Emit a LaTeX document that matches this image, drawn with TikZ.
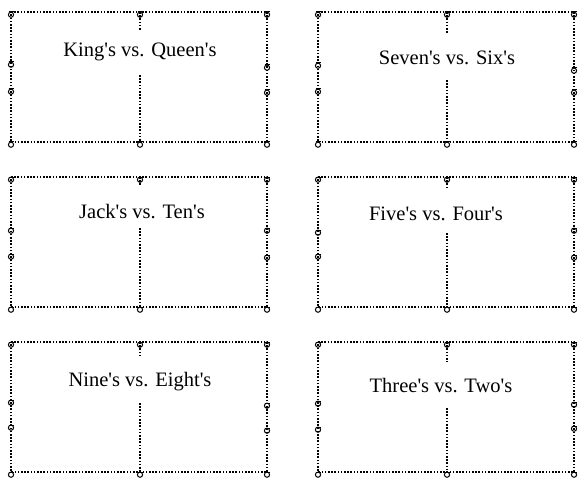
\documentclass[tikz,border=0pt]{standalone}
\usepackage{fontspec}
\setmainfont{Liberation Serif}[Ligatures=TeXOff]
\begin{document}
\begin{tikzpicture}[x=1pt,y=-1pt,
  dotline/.style={line width=1.8pt,dash pattern=on 1.6pt off 1.6pt,black},
  cardtext/.style={font=\fontsize{20.5}{24}\selectfont,inner sep=0pt,anchor=center},
  sig/.pic={\draw[line width=1pt] (-2.4,0) -- (3.2,0);
            \draw[line width=1pt] (0,2.7) circle[radius=2.6pt];}]
\useasboundingbox (0,0) rectangle (578,484);
\foreach \x/\t/\lab/\tx/\ty/\ga/\gb/\la/\lb/\ra/\rb [count=\i] in {
  11/12/{King's vs. Queen's}/140/52/30/75/62/89/65/90,
  318/12/{Seven's vs. Six's}/447/58/33/80/63/89/68/90,
  11/177/{Jack's vs. Ten's}/142/212/185/228/228/254/228/255,
  318/177/{Five's vs. Four's}/436/214/189/233/230/254/228/255,
  11/342/{Nine's vs. Eight's}/140/382/357/403/400/425/403/428,
  318/342/{Three's vs. Two's}/441/386/362/408/401/427/402/426}{
  \pgfmathsetmacro{\xr}{\x+256}
  \pgfmathsetmacro{\xm}{\x+129}
  \pgfmathsetmacro{\bt}{\t+130}
  \coordinate (tl\i) at (\x,\t);
  \coordinate (tr\i) at (\xr,\t);
  \coordinate (bl\i) at (\x,\bt);
  \coordinate (br\i) at (\xr,\bt);
  \coordinate (tm\i) at (\xm,\t);
  \coordinate (bm\i) at (\xm,\bt);
  \coordinate (ga\i) at (\xm,\ga);
  \coordinate (gb\i) at (\xm,\gb);
  \draw[dotline] (tl\i) -- (tr\i) -- (br\i) -- (bl\i) -- cycle;
  \draw[dotline] (tm\i) -- (ga\i);
  \draw[dotline] (gb\i) -- (bm\i);
  \node[cardtext] (lab\i) at (\tx,\ty) {\lab};
  \foreach \c in {tl\i,tr\i,bl\i,br\i,tm\i,bm\i}{\pic at (\c) {sig};}
  \pic at (\x,\la) {sig};
  \pic at (\x,\lb) {sig};
  \pic at (\xr,\ra) {sig};
  \pic at (\xr,\rb) {sig};
}
\end{tikzpicture}
\end{document}
